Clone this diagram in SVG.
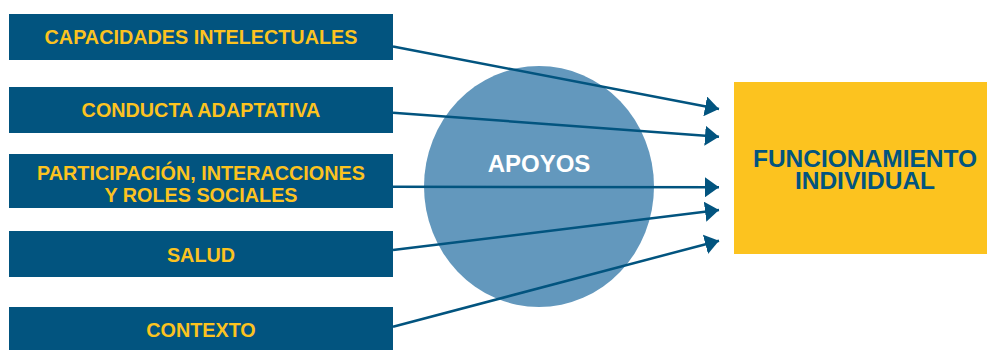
<svg xmlns="http://www.w3.org/2000/svg" width="987" height="350" viewBox="0 0 987 350">
<style>
.box{fill:#02547f}
.bt{fill:#fcc31f;font-family:"Liberation Sans",Arial,sans-serif;font-weight:bold;font-size:19.8px;text-anchor:middle}
.ft{fill:#02547f;font-family:"Liberation Sans",Arial,sans-serif;font-weight:bold;font-size:24.5px;text-anchor:middle}
.conn{stroke:#02547f;stroke-width:2.5;fill:none;marker-end:url(#ah)}
</style>
<defs>
<marker id="ah" markerUnits="userSpaceOnUse" markerWidth="14" markerHeight="20" refX="14" refY="10" orient="auto">
<path d="M0,0 L14,10 L0,20 Z" fill="#02547f"/>
</marker>
</defs>
<rect width="987" height="350" fill="#ffffff"/>
<g id="apoyos">
<ellipse cx="539" cy="186.5" rx="115" ry="120.5" fill="#6398bd"/>
<text x="539" y="171.5" fill="#ffffff" font-family="'Liberation Sans',Arial,sans-serif" font-weight="bold" font-size="24" text-anchor="middle">APOYOS</text>
</g>
<g id="n1"><rect class="box" x="9" y="14" width="384" height="46"/><text class="bt" x="201" y="44">CAPACIDADES INTELECTUALES</text></g>
<g id="n2"><rect class="box" x="9" y="87" width="384" height="46"/><text class="bt" x="201" y="117">CONDUCTA ADAPTATIVA</text></g>
<g id="n3"><rect class="box" x="9" y="154" width="384" height="54"/><text class="bt" x="201" y="180">PARTICIPACIÓN, INTERACCIONES</text><text class="bt" x="201" y="201.5">Y ROLES SOCIALES</text></g>
<g id="n4"><rect class="box" x="9" y="231" width="384" height="46"/><text class="bt" x="201" y="261.5">SALUD</text></g>
<g id="n5"><rect class="box" x="9" y="307" width="384" height="45"/><text class="bt" x="201" y="336.5">CONTEXTO</text></g>
<g id="funcionamiento">
<rect x="734" y="82" width="253" height="172" fill="#fcc31f"/>
<text class="ft" x="865" y="167">FUNCIONAMIENTO</text>
<text class="ft" x="865" y="189">INDIVIDUAL</text>
</g>
<g id="connectors">
<line class="conn" x1="393" y1="46.5" x2="719" y2="109"/>
<line class="conn" x1="393" y1="112.7" x2="719" y2="136.7"/>
<line class="conn" x1="393" y1="186.7" x2="719" y2="187.3"/>
<line class="conn" x1="393" y1="250" x2="719" y2="210"/>
<line class="conn" x1="393" y1="326.7" x2="719" y2="240.7"/>
</g>
</svg>
